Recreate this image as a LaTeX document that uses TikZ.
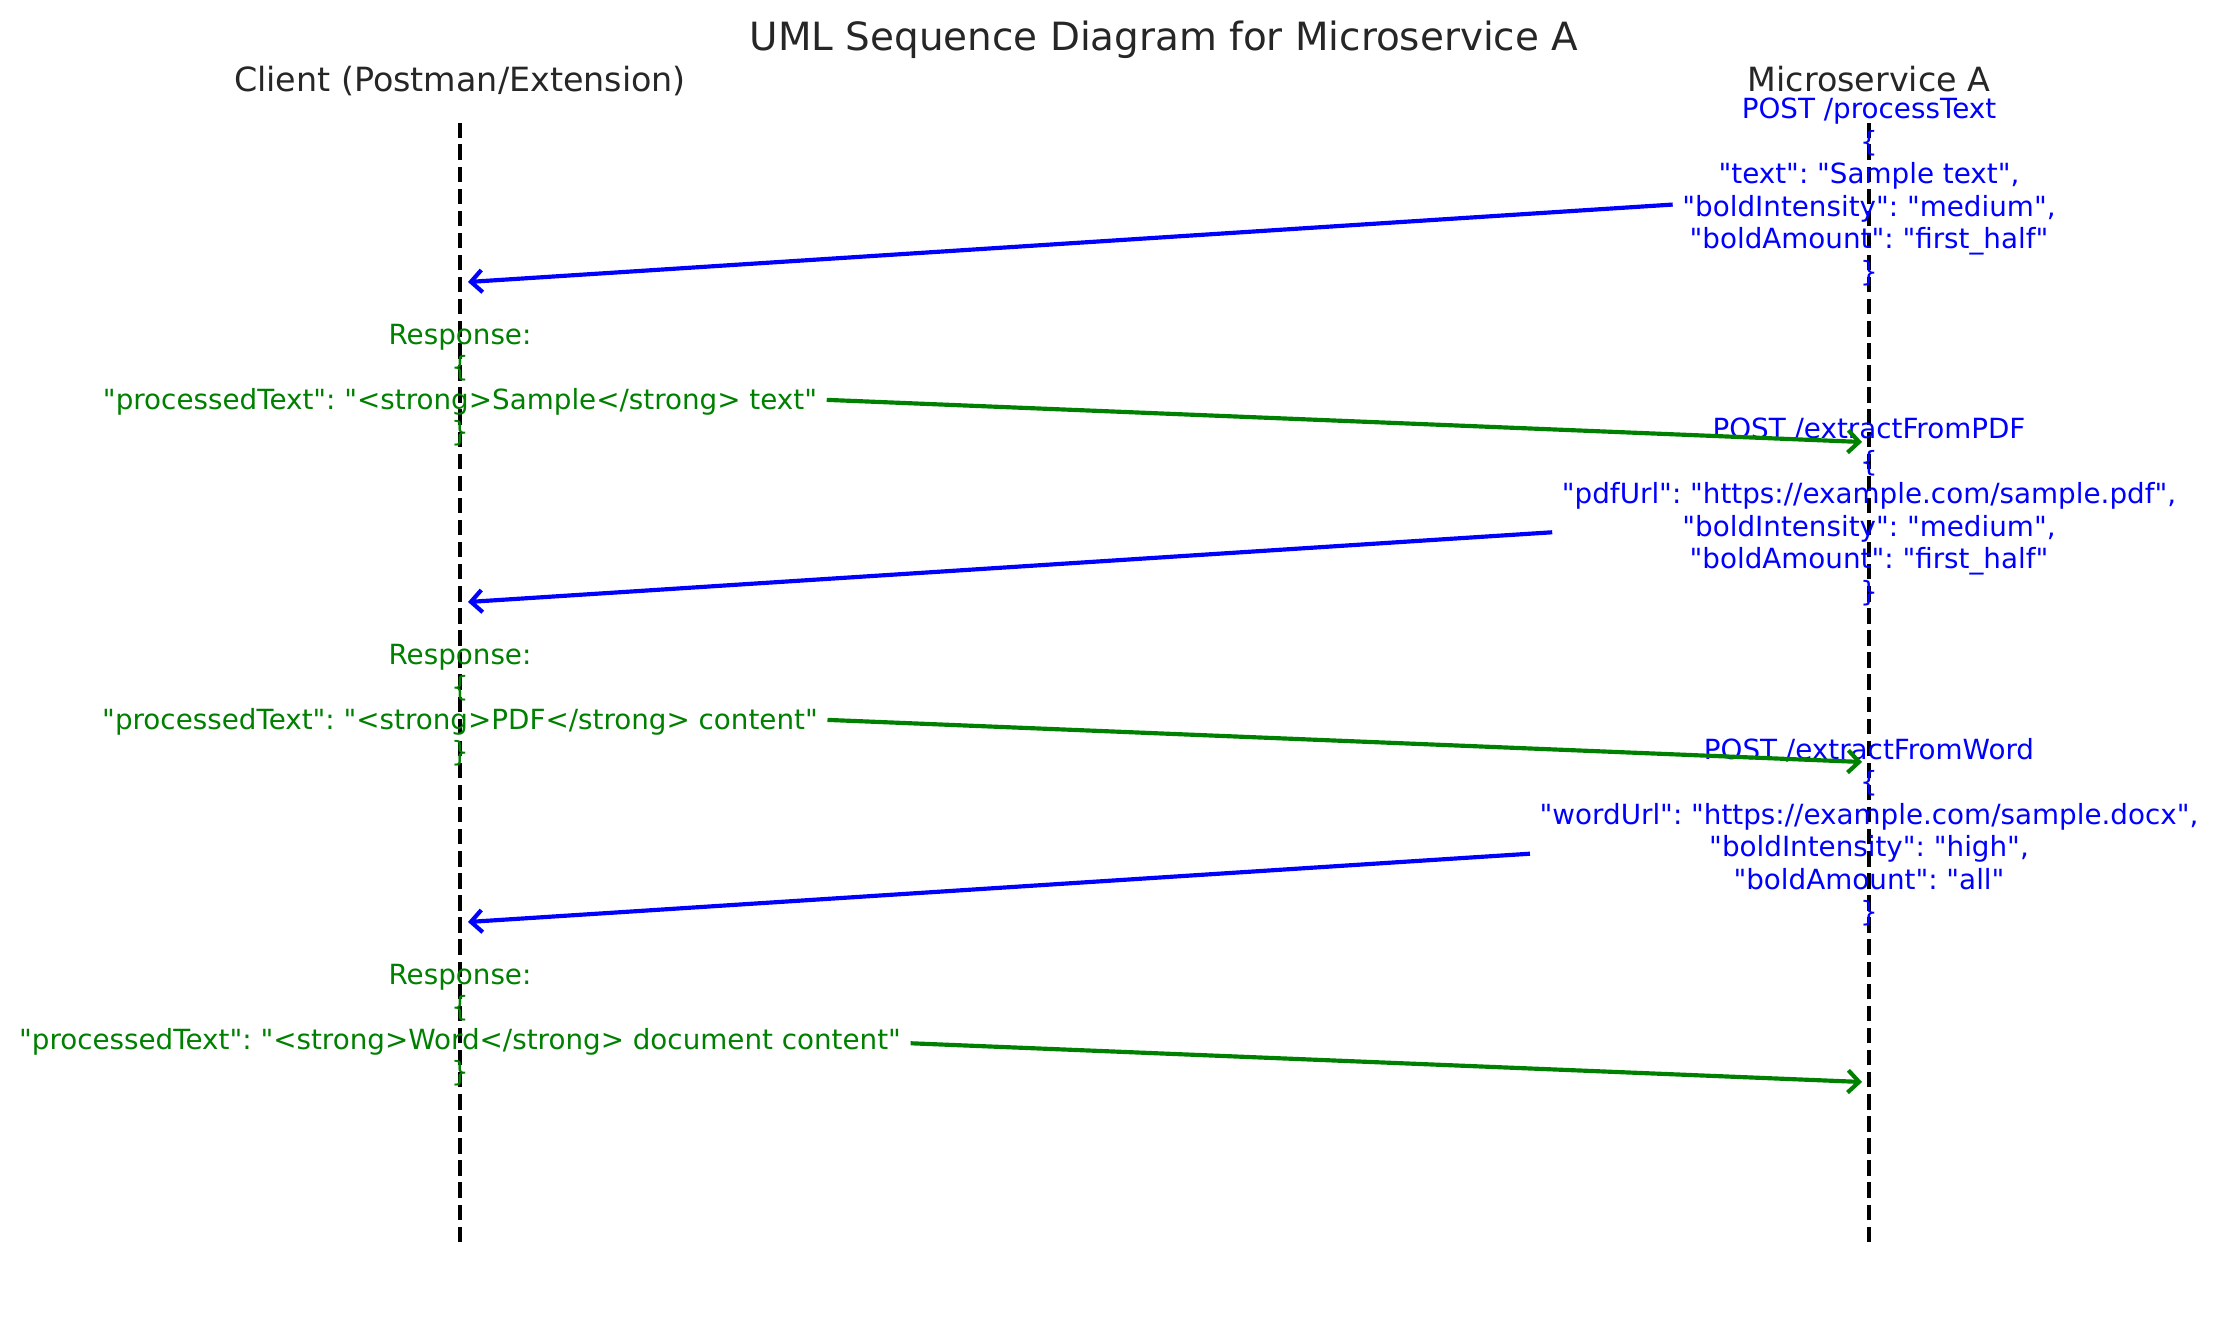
\documentclass[tikz,border=0pt]{standalone}
\usepackage{fontspec}
\newfontfamily\dvsans{DejaVu Sans}
\usetikzlibrary{arrows.meta}
\definecolor{txtgray}{RGB}{38,38,38}
\definecolor{mplblue}{RGB}{0,0,255}
\definecolor{mplgreen}{RGB}{0,128,0}
\begin{document}
\frenchspacing
\begin{tikzpicture}[x=0.36bp,y=-0.36bp,
  titlestyle/.style={font=\dvsans\fontsize{14bp}{16bp}\selectfont, text=txtgray, inner sep=0},
  actor/.style={font=\dvsans\fontsize{12bp}{14bp}\selectfont, text=txtgray, inner sep=0},
  lifeline/.style={draw=black, line width=1.5bp, dash pattern=on 5.55bp off 2.4bp},
  msg/.style={font=\dvsans\fontsize{10bp}{11.7bp}\selectfont\frenchspacing, align=center, inner sep=0, outer sep=3.5bp},
  req/.style={msg, text=mplblue},
  resp/.style={msg, text=mplgreen},
  reqarrow/.style={draw=mplblue, line width=1.5bp, -{Straight Barb[length=4bp,width=8bp]}},
  resparrow/.style={draw=mplgreen, line width=1.5bp, -{Straight Barb[length=4bp,width=8bp]}}
]
\useasboundingbox (0,0) rectangle (2218,1318);

\node[titlestyle, anchor=base] (title) at (1164,51) {UML Sequence Diagram for Microservice A};
\node[actor, anchor=base] (client) at (460,92) {Client (Postman/Extension)};
\node[actor, anchor=base] (service) at (1869,92) {Microservice A};

\coordinate (cTop) at (460,123);
\coordinate (cBot) at (460,1242);
\coordinate (sTop) at (1869,123);
\coordinate (sBot) at (1869,1242);
\draw[lifeline] (cBot) -- (cTop);
\draw[lifeline] (sBot) -- (sTop);

\coordinate (t1) at (468,282);
\coordinate (t2) at (1862,442);
\coordinate (t3) at (468,602);
\coordinate (t4) at (1862,762);
\coordinate (t5) at (468,922);
\coordinate (t6) at (1862,1082);

\node[req] (m1) at (1869,192) {POST /processText\\\{\\"text": "Sample text",\\"boldIntensity": "medium",\\"boldAmount": "first\_half"\\\}};
\node[resp] (m2) at (460,385) {Response:\\\{\\"processedText": "<strong>Sample</strong> text"\\\}};
\node[req] (m3) at (1869,512) {POST /extractFromPDF\\\{\\"pdfUrl": "https://example.com/sample.pdf",\\"boldIntensity": "medium",\\"boldAmount": "first\_half"\\\}};
\node[resp] (m4) at (460,705) {Response:\\\{\\"processedText": "<strong>PDF</strong> content"\\\}};
\node[req] (m5) at (1869,832) {POST /extractFromWord\\\{\\"wordUrl": "https://example.com/sample.docx",\\"boldIntensity": "high",\\"boldAmount": "all"\\\}};
\node[resp] (m6) at (460,1025) {Response:\\\{\\"processedText": "<strong>Word</strong> document content"\\\}};

\draw[reqarrow] (m1) -- (t1);
\draw[resparrow] (m2) -- (t2);
\draw[reqarrow] (m3) -- (t3);
\draw[resparrow] (m4) -- (t4);
\draw[reqarrow] (m5) -- (t5);
\draw[resparrow] (m6) -- (t6);
\end{tikzpicture}
\end{document}
